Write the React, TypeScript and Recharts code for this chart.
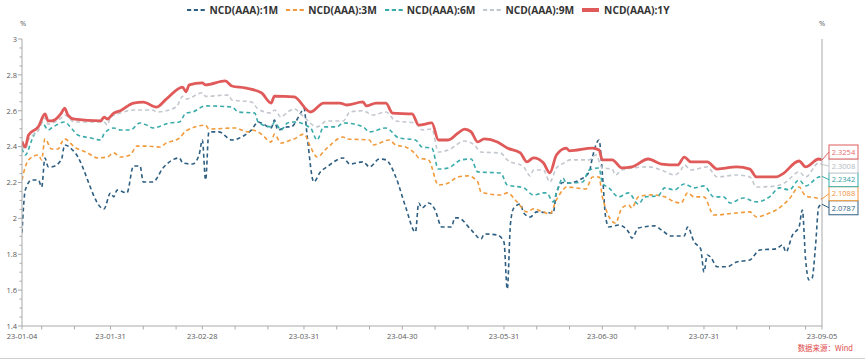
import React from 'react';
import { LineChart, Line, XAxis, YAxis } from 'recharts';

type Pt = [string, number];

// NCD (AAA) yields, %, 2023
const NCD_1M: Pt[] = [
  ['01-04', 1.92], ['01-05', 2.158], ['01-07', 2.214], ['01-09', 2.214], ['01-10', 2.175], ['01-11', 2.337],
  ['01-12', 2.287], ['01-13', 2.287], ['01-16', 2.326], ['01-17', 2.409], ['01-20', 2.37], ['01-29', 2.052],
  ['01-31', 2.142], ['02-01', 2.12], ['02-02', 2.158], ['02-05', 2.142], ['02-07', 2.292], ['02-09', 2.292],
  ['02-10', 2.203], ['02-13', 2.203], ['02-16', 2.281], ['02-21', 2.337], ['02-22', 2.309], ['02-25', 2.303],
  ['02-27', 2.353], ['02-28', 2.437], ['03-01', 2.214], ['03-02', 2.482], ['03-05', 2.482], ['03-09', 2.437],
  ['03-13', 2.465], ['03-15', 2.493], ['03-17', 2.537], ['03-18', 2.532], ['03-21', 2.504], ['03-22', 2.548],
  ['03-23', 2.493], ['03-26', 2.51], ['03-27', 2.51], ['03-30', 2.587], ['03-31', 2.615], ['04-01', 2.454],
  ['04-03', 2.203], ['04-05', 2.259], ['04-07', 2.287], ['04-12', 2.337], ['04-14', 2.303], ['04-18', 2.315],
  ['04-20', 2.287], ['04-23', 2.331], ['04-25', 2.326], ['04-28', 2.231], ['05-01', 2.064], ['05-04', 1.924],
  ['05-05', 2.086], ['05-06', 2.058], ['05-08', 2.086], ['05-10', 2.047], ['05-12', 1.952], ['05-15', 1.952],
  ['05-16', 2.003], ['05-17', 2.003], ['05-21', 1.936], ['05-24', 1.885], ['05-25', 1.913], ['05-29', 1.907],
  ['05-31', 1.868], ['06-01', 1.606], ['06-02', 1.974], ['06-03', 2.058], ['06-05', 2.08], ['06-06', 2.03],
  ['06-08', 2.008], ['06-10', 2.036], ['06-15', 2.03], ['06-16', 2.142], ['06-18', 2.2], ['06-20', 2.197],
  ['06-23', 2.214], ['06-26', 2.259], ['06-27', 2.342], ['06-29', 2.437], ['06-30', 2.253], ['07-01', 2.008],
  ['07-02', 1.952], ['07-05', 1.963], ['07-08', 1.924], ['07-09', 1.89], ['07-11', 1.946], ['07-16', 1.958],
  ['07-18', 1.936], ['07-21', 1.902], ['07-25', 1.902], ['07-26', 1.952], ['07-28', 1.868], ['07-30', 1.83],
  ['07-31', 1.701], ['08-01', 1.796], ['08-02', 1.785], ['08-04', 1.73], ['08-07', 1.73], ['08-10', 1.757],
  ['08-14', 1.768], ['08-17', 1.824], ['08-22', 1.83], ['08-24', 1.852], ['08-25', 1.813], ['08-27', 1.907],
  ['08-29', 1.952], ['08-30', 2.047], ['08-31', 1.77], ['09-01', 1.657], ['09-02', 1.668], ['09-03', 1.841],
  ['09-04', 2.064], ['09-05', 2.0787],
];

const NCD_3M: Pt[] = [
  ['01-04', 2.214], ['01-05', 2.287], ['01-07', 2.342], ['01-09', 2.353], ['01-10', 2.326], ['01-11', 2.443],
  ['01-13', 2.387], ['01-15', 2.387], ['01-16', 2.42], ['01-17', 2.443], ['01-20', 2.398], ['01-24', 2.365],
  ['01-27', 2.337], ['01-30', 2.342], ['02-01', 2.365], ['02-03', 2.342], ['02-06', 2.353], ['02-08', 2.403],
  ['02-11', 2.403], ['02-15', 2.398], ['02-17', 2.42], ['02-21', 2.448], ['02-23', 2.487], ['03-01', 2.52],
  ['03-02', 2.498], ['03-10', 2.504], ['03-14', 2.482], ['03-15', 2.493], ['03-18', 2.47], ['03-21', 2.426],
  ['03-22', 2.47], ['03-24', 2.42], ['03-27', 2.437], ['03-28', 2.443], ['03-31', 2.47], ['04-02', 2.398],
  ['04-04', 2.342], ['04-07', 2.392], ['04-12', 2.454], ['04-13', 2.443], ['04-20', 2.437], ['04-21', 2.409],
  ['04-26', 2.437], ['04-28', 2.409], ['05-01', 2.398], ['05-04', 2.359], ['05-05', 2.337], ['05-08', 2.326],
  ['05-11', 2.186], ['05-14', 2.197], ['05-17', 2.231], ['05-20', 2.237], ['05-23', 2.203], ['05-24', 2.147],
  ['05-30', 2.13], ['06-01', 2.142], ['06-04', 2.092], ['06-07', 2.036], ['06-09', 2.053], ['06-12', 2.036],
  ['06-14', 2.025], ['06-16', 2.103], ['06-18', 2.159], ['06-19', 2.175], ['06-25', 2.164], ['06-27', 2.231],
  ['06-29', 2.231], ['06-30', 2.12], ['07-04', 1.974], ['07-06', 2.058], ['07-08', 2.075], ['07-09', 2.058],
  ['07-11', 2.12], ['07-15', 2.131], ['07-19', 2.12], ['07-22', 2.092], ['07-24', 2.086], ['07-26', 2.142],
  ['07-28', 2.12], ['07-31', 2.12], ['08-03', 2.019], ['08-10', 2.03], ['08-14', 2.036], ['08-16', 2.008],
  ['08-20', 2.03], ['08-22', 2.047], ['08-26', 2.108], ['08-29', 2.175], ['08-31', 2.125], ['09-03', 2.115],
  ['09-05', 2.1088],
];

const NCD_6M: Pt[] = [
  ['01-04', 2.39], ['01-05', 2.353], ['01-07', 2.437], ['01-10', 2.537], ['01-12', 2.493], ['01-13', 2.504],
  ['01-17', 2.537], ['01-19', 2.504], ['01-21', 2.465], ['01-25', 2.448], ['01-28', 2.437], ['01-29', 2.47],
  ['02-01', 2.504], ['02-03', 2.493], ['02-06', 2.493], ['02-09', 2.532], ['02-11', 2.52], ['02-13', 2.504],
  ['02-18', 2.532], ['02-21', 2.537], ['02-23', 2.587], ['02-25', 2.593], ['03-01', 2.627], ['03-09', 2.621],
  ['03-11', 2.593], ['03-16', 2.587], ['03-17', 2.537], ['03-21', 2.51], ['03-22', 2.537], ['03-24', 2.493],
  ['03-26', 2.532], ['03-28', 2.537], ['04-02', 2.504], ['04-04', 2.437], ['04-06', 2.51], ['04-10', 2.51],
  ['04-12', 2.532], ['04-18', 2.51], ['04-20', 2.482], ['04-25', 2.504], ['04-29', 2.448], ['05-04', 2.437],
  ['05-06', 2.398], ['05-09', 2.392], ['05-11', 2.275], ['05-14', 2.281], ['05-18', 2.326], ['05-21', 2.331],
  ['05-23', 2.259], ['05-30', 2.253], ['06-01', 2.186], ['06-06', 2.17], ['06-09', 2.13], ['06-12', 2.142],
  ['06-13', 2.142], ['06-15', 2.092], ['06-16', 2.142], ['06-18', 2.225], ['06-19', 2.197], ['06-24', 2.203],
  ['06-26', 2.27], ['06-29', 2.281], ['06-30', 2.197], ['07-02', 2.17], ['07-05', 2.12], ['07-08', 2.142],
  ['07-11', 2.08], ['07-13', 2.12], ['07-17', 2.125], ['07-19', 2.17], ['07-22', 2.159], ['07-25', 2.192],
  ['07-28', 2.17], ['07-31', 2.181], ['08-03', 2.12], ['08-06', 2.12], ['08-08', 2.086], ['08-12', 2.114],
  ['08-16', 2.092], ['08-20', 2.12], ['08-23', 2.17], ['08-26', 2.159], ['08-29', 2.214], ['08-31', 2.181],
  ['09-04', 2.231], ['09-05', 2.2342],
];

const NCD_9M: Pt[] = [
  ['01-04', 2.41], ['01-05', 2.385], ['01-06', 2.44], ['01-09', 2.49], ['01-11', 2.56], ['01-12', 2.525],
  ['01-13', 2.53], ['01-16', 2.56], ['01-17', 2.576], ['01-20', 2.537], ['01-29', 2.537], ['01-30', 2.52],
  ['01-31', 2.565], ['02-03', 2.587], ['02-07', 2.604], ['02-13', 2.604], ['02-14', 2.593], ['02-20', 2.62],
  ['02-22', 2.68], ['02-23', 2.665], ['02-28', 2.70], ['03-01', 2.68], ['03-08', 2.688], ['03-09', 2.66],
  ['03-15', 2.649], ['03-17', 2.61], ['03-21', 2.587], ['03-22', 2.604], ['03-24', 2.565], ['03-26', 2.593],
  ['03-28', 2.61], ['03-31', 2.565], ['04-04', 2.51], ['04-07', 2.543], ['04-12', 2.543], ['04-14', 2.593],
  ['04-18', 2.60], ['04-21', 2.576], ['04-25', 2.593], ['04-28', 2.543], ['05-04', 2.532], ['05-06', 2.493],
  ['05-09', 2.498], ['05-11', 2.37], ['05-14', 2.381], ['05-19', 2.431], ['05-22', 2.409], ['05-24', 2.37],
  ['05-30', 2.364], ['06-01', 2.326], ['06-06', 2.287], ['06-08', 2.237], ['06-09', 2.27], ['06-12', 2.27],
  ['06-14', 2.203], ['06-16', 2.281], ['06-19', 2.315], ['06-20', 2.326], ['06-26', 2.326], ['06-28', 2.354],
  ['06-30', 2.281], ['07-03', 2.275], ['07-04', 2.242], ['07-06', 2.27], ['07-14', 2.287], ['07-18', 2.27],
  ['07-22', 2.242], ['07-24', 2.27], ['07-25', 2.298], ['07-27', 2.27], ['08-01', 2.287], ['08-04', 2.231],
  ['08-10', 2.242], ['08-14', 2.231], ['08-16', 2.175], ['08-22', 2.181], ['08-25', 2.203], ['08-29', 2.259],
  ['08-31', 2.231], ['09-04', 2.309], ['09-05', 2.3008],
];

const NCD_1Y: Pt[] = [
  ['01-04', 2.428], ['01-05', 2.398], ['01-06', 2.465], ['01-09', 2.511], ['01-11', 2.582], ['01-12', 2.543],
  ['01-13', 2.543], ['01-16', 2.587], ['01-17', 2.615], ['01-18', 2.576], ['01-20', 2.553], ['01-28', 2.543],
  ['01-29', 2.565], ['01-30', 2.554], ['02-01', 2.587], ['02-03', 2.60], ['02-07', 2.643], ['02-10', 2.648],
  ['02-14', 2.62], ['02-17', 2.665], ['02-22', 2.732], ['02-23', 2.705], ['02-24', 2.744], ['02-28', 2.755],
  ['03-01', 2.744], ['03-07', 2.766], ['03-09', 2.738], ['03-13', 2.727], ['03-18', 2.70], ['03-21', 2.643],
  ['03-22', 2.682], ['03-28', 2.677], ['04-02', 2.593], ['04-06', 2.643], ['04-11', 2.643], ['04-13', 2.632],
  ['04-18', 2.649], ['04-19', 2.627], ['04-22', 2.643], ['04-25', 2.642], ['04-27', 2.587], ['05-03', 2.582],
  ['05-05', 2.52], ['05-09', 2.532], ['05-11', 2.437], ['05-14', 2.437], ['05-17', 2.476], ['05-19', 2.498],
  ['05-21', 2.482], ['05-23', 2.426], ['05-25', 2.443], ['05-29', 2.426], ['06-01', 2.392], ['06-05', 2.365],
  ['06-07', 2.315], ['06-09', 2.337], ['06-12', 2.31], ['06-14', 2.254], ['06-16', 2.353], ['06-19', 2.392],
  ['06-20', 2.376], ['06-27', 2.392], ['06-29', 2.381], ['06-30', 2.326], ['07-03', 2.326], ['07-06', 2.281],
  ['07-09', 2.287], ['07-14', 2.331], ['07-18', 2.303], ['07-23', 2.298], ['07-25', 2.342], ['07-27', 2.315],
  ['08-01', 2.315], ['08-04', 2.275], ['08-10', 2.287], ['08-14', 2.275], ['08-16', 2.231], ['08-22', 2.231],
  ['08-24', 2.248], ['08-29', 2.32], ['08-31', 2.287], ['09-04', 2.331], ['09-05', 2.3254],
];

const X_TICKS = [
  '01-04', '01-10', '01-20', '01-31', '02-10', '02-20', '02-28', '03-10', '03-20', '03-31', '04-10', '04-20',
  '04-30', '05-10', '05-20', '05-31', '06-10', '06-20', '06-30', '07-10', '07-20', '07-31', '08-10', '08-20',
  '08-31', '09-05',
];
const X_LABELS = ['01-04', '01-31', '02-28', '03-31', '04-30', '05-31', '06-30', '07-31', '09-05'];
const Y_MAJOR = [1.4, 1.6, 1.8, 2, 2.2, 2.4, 2.6, 2.8, 3];

const ts = (md: string) => Date.UTC(2023, Number(md.slice(0, 2)) - 1, Number(md.slice(3)));
const toRows = (pts: Pt[]) => pts.map(([d, v]) => ({ t: ts(d), v }));

// minor ticks every 0.05 between the labelled ones
const Y_TICKS = Y_MAJOR.flatMap((m, i) => (i === 0 ? [m] : [1, 2, 3].map((k) => Y_MAJOR[i - 1] + k * 0.05).concat(m)));
const isMajor = (v: number) => Y_MAJOR.some((m) => Math.abs(m - v) < 1e-6);

const FONT = '"Open Sans", "Noto Sans CJK SC", sans-serif';
const AXIS = '#a9a9a9';
const TEXT = '#595959';

const SERIES = [
  { name: 'NCD(AAA):1M', pts: NCD_1M, color: '#2e5f82', text: '#2e5f82', dash: '4 3', width: 1.6, dy: 3.5 },
  { name: 'NCD(AAA):3M', pts: NCD_3M, color: '#f29a3a', text: '#f0923a', dash: '4 3', width: 1.6, dy: -5.2 },
  { name: 'NCD(AAA):6M', pts: NCD_6M, color: '#3aabab', text: '#2fa2a2', dash: '4 3', width: 1.6, dy: 3.3 },
  { name: 'NCD(AAA):9M', pts: NCD_9M, color: '#c3c7ce', text: '#b4b8bf', dash: '4 3', width: 1.6, dy: 1.6 },
  { name: 'NCD(AAA):1Y', pts: NCD_1Y, color: '#e05a5a', text: '#e46a6a', dash: undefined, width: 2.8, dy: -8 },
];

function YTick(props: any) {
  const { x, y, payload, orientation } = props;
  const major = isMajor(payload.value);
  const len = major ? 4 : 2.5;
  const left = orientation === 'left';
  return (
    <g>
      <line x1={x} x2={left ? x - len : x + len} y1={y} y2={y} stroke={AXIS} strokeWidth={1} />
      {major && (
        <text x={left ? x - 5 : x + 5} y={y + 2.8} textAnchor={left ? 'end' : 'start'} fontSize={7.5} fill={TEXT} fontFamily={FONT}>
          {String(payload.value)}
        </text>
      )}
    </g>
  );
}

function XTick(props: any) {
  const { x, y, payload } = props;
  const label = X_LABELS.find((d) => ts(d) === payload.value);
  return (
    <g>
      <line x1={x} x2={x} y1={y} y2={y + 3.5} stroke={AXIS} strokeWidth={1} />
      {label && (
        <text x={x} y={y + 12.5} textAnchor="middle" fontSize={7.5} fill={TEXT} fontFamily={FONT}>
          {'23-' + label}
        </text>
      )}
    </g>
  );
}

const endLabel = (s: (typeof SERIES)[number]) => (props: any) => {
  const { x, y, index } = props;
  if (index !== s.pts.length - 1) return null;
  const by = y + s.dy;
  return (
    <g>
      <polyline points={`${x},${y} ${x + 7},${by}`} stroke={s.color} fill="none" strokeWidth={1} />
      <rect x={x + 7} y={by - 7} width={29} height={14} fill="#fff" stroke={s.color} strokeWidth={1} />
      <text x={x + 21.5} y={by + 2.8} textAnchor="middle" fontSize={7.5} fill={s.text} fontFamily={FONT}>
        {s.pts[index][1].toFixed(4)}
      </text>
    </g>
  );
};

function LegendIcon({ color, dash }: { color: string; dash?: string }) {
  return (
    <svg width={18} height={6} style={{ display: 'block' }}>
      {dash ? (
        <line x1={0} x2={18} y1={3} y2={3} stroke={color} strokeWidth={2} strokeDasharray="4.2 2.6" />
      ) : (
        <rect x={0} y={1} width={17} height={4} fill={color} />
      )}
    </svg>
  );
}

export default function App() {
  return (
    <div style={{ position: 'absolute', left: 0, top: 0, width: 865, height: 360, background: '#fff', fontFamily: FONT }}>
      {/* Legend */}
      <div style={{ position: 'absolute', top: 3, left: 0, width: 857, display: 'flex', justifyContent: 'center', gap: 8 }}>
        {SERIES.map((s) => (
          <div key={s.name} style={{ display: 'flex', alignItems: 'center', gap: 4 }}>
            <LegendIcon color={s.color} dash={s.dash} />
            <span style={{ fontSize: 10.2, fontWeight: 700, color: '#333', lineHeight: '14px' }}>{s.name}</span>
          </div>
        ))}
      </div>

      <div style={{ position: 'absolute', left: 20, top: 18, fontSize: 7.5, color: TEXT }}>%</div>
      <div style={{ position: 'absolute', left: 819, top: 18, fontSize: 7.5, color: TEXT }}>%</div>

      <LineChart width={865} height={360} margin={{ top: 39, right: 0, bottom: 0, left: 0 }}>
        <XAxis
          type="number"
          dataKey="t"
          domain={[ts('01-04'), ts('09-05')]}
          ticks={X_TICKS.map(ts)}
          tick={<XTick />}
          tickLine={false}
          tickSize={0}
          tickMargin={0}
          height={34}
          stroke={AXIS}
          interval={0}
          allowDataOverflow
        />
        <YAxis
          yAxisId="left"
          orientation="left"
          domain={[1.4, 3]}
          ticks={Y_TICKS}
          tick={<YTick />}
          tickLine={false}
          tickSize={0}
          tickMargin={0}
          width={22}
          stroke={AXIS}
          interval={0}
        />
        <YAxis
          yAxisId="right"
          orientation="right"
          domain={[1.4, 3]}
          ticks={Y_TICKS}
          tick={<YTick />}
          tickLine={false}
          tickSize={0}
          tickMargin={0}
          width={43}
          stroke={AXIS}
          interval={0}
        />
        {SERIES.map((s) => (
          <Line
            key={s.name}
            yAxisId="left"
            data={toRows(s.pts)}
            dataKey="v"
            name={s.name}
            type="monotone"
            stroke={s.color}
            strokeWidth={s.width}
            strokeDasharray={s.dash}
            dot={false}
            activeDot={false}
            label={endLabel(s)}
            isAnimationActive={false}
          />
        ))}
      </LineChart>

      <div style={{ position: 'absolute', right: 12, top: 342, fontSize: 7.5, color: '#e04848', fontFamily: '"Noto Sans CJK SC", sans-serif' }}>
        数据来源：Wind
      </div>
      <div style={{ position: 'absolute', left: 0, top: 358, width: 865, height: 1, background: '#cfcfcf' }} />
    </div>
  );
}
